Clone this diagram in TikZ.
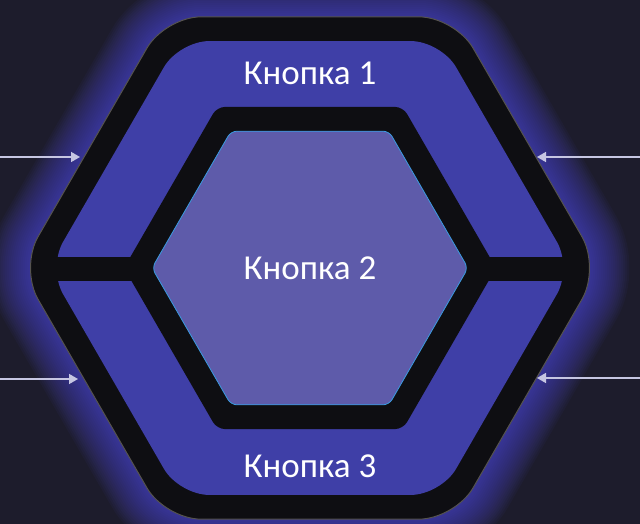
\documentclass[tikz,border=0pt]{standalone}
\usepackage{fontspec}
\setmainfont{Carlito}
\usetikzlibrary{arrows.meta}
\definecolor{bgdark}{HTML}{1D1C2C}
\definecolor{glowblue}{HTML}{5652E8}
\definecolor{frameblack}{HTML}{0E0E12}
\definecolor{frameedge}{HTML}{55534F}
\definecolor{bandblue}{HTML}{3F3FA7}
\definecolor{corepurple}{HTML}{5E5BAA}
\definecolor{coreedge}{HTML}{3A9BE0}
\definecolor{arrowgray}{HTML}{C6C6E2}
\newcommand{\hexshape}[1]{([shift={(90:0.866*#1)}]hub) -- ([shift={(120:#1)}]hub) -- ([shift={(180:#1)}]hub) -- ([shift={(240:#1)}]hub) -- ([shift={(300:#1)}]hub) -- ([shift={(0:#1)}]hub) -- ([shift={(60:#1)}]hub) -- cycle}

\begin{document}
\begin{tikzpicture}[x=1pt,y=-1pt,
  btnlabel/.style={text=white,font=\fontsize{35}{40}\selectfont,inner sep=0pt},
  arrow/.style={-{Triangle[length=9pt,width=10pt]},line width=1.6pt,draw=arrowgray},
  glow/.style={draw=glowblue,opacity=0.045,rounded corners=36}
]
\fill[bgdark] (0,0) rectangle (640,524);
\useasboundingbox (0,0) rectangle (640,524);
\coordinate (hub) at (310,268);
\foreach \w in {4,8,...,80}
  \draw[glow,line width=\w pt] \hexshape{290};
\filldraw[fill=frameblack,draw=frameedge,line width=1pt,rounded corners=36] \hexshape{290};
\fill[bandblue,rounded corners=30] \hexshape{262};
\fill[frameblack] (36,257) rectangle (584,281);
\fill[frameblack,rounded corners=8] \hexshape{186};
\filldraw[fill=corepurple,draw=coreedge,line width=0.8pt,rounded corners=6] \hexshape{158};
\node[btnlabel] (btnTop) at (310,73) {Кнопка 1};
\node[btnlabel] (btnCore) at (310,268) {Кнопка 2};
\node[btnlabel] (btnBottom) at (310,466) {Кнопка 3};
\coordinate (inTL) at (0,157);
\coordinate (tipTL) at (80,157);
\coordinate (inBL) at (0,379);
\coordinate (tipBL) at (78,379);
\coordinate (inTR) at (640,157);
\coordinate (tipTR) at (537,157);
\coordinate (inBR) at (640,378);
\coordinate (tipBR) at (537,378);
\draw[arrow] (inTL) -- (tipTL);
\draw[arrow] (inBL) -- (tipBL);
\draw[arrow] (inTR) -- (tipTR);
\draw[arrow] (inBR) -- (tipBR);
\end{tikzpicture}
\end{document}
